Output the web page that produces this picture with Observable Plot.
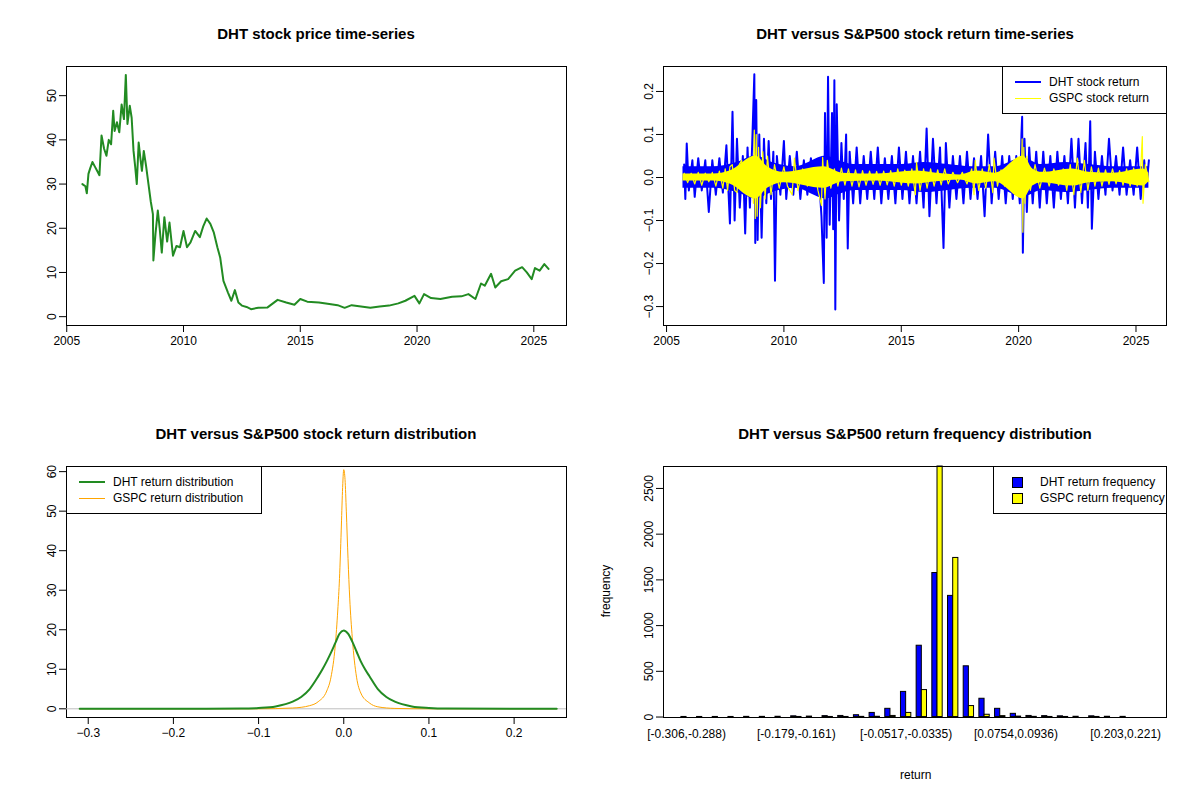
<!DOCTYPE html>
<html><head><meta charset="utf-8">
<script src="https://cdn.jsdelivr.net/npm/d3@7"></script>
<script src="https://cdn.jsdelivr.net/npm/@observablehq/plot@0.6"></script>
<style>
body{margin:0;background:#fff;font-family:"Liberation Sans",Arial,sans-serif;}
#wrap{position:relative;width:1200px;height:800px;}
.panel{position:absolute;}
.title{position:absolute;font-weight:bold;font-size:15px;transform:translateX(-50%);white-space:nowrap;}
.lab{position:absolute;font-size:12px;white-space:nowrap;}
.legend{position:absolute;border:1px solid #000;background:#fff;font-size:12px;}
.legend div{position:relative;height:16px;line-height:16px;padding-left:46px;}
.sw{position:absolute;left:12px;top:8px;width:26px;}
.box{position:absolute;left:18px;top:3px;width:9px;height:9px;border:1px solid #000;}
</style></head><body>
<div id="wrap"></div>
<script>
// ---- Data ----
const priceYears=[2005.67,2005.8,2005.86,2005.93,2006.0,2006.1,2006.2,2006.3,2006.4,2006.49,2006.6,2006.7,2006.8,2006.9,2006.99,2007.05,2007.15,2007.25,2007.35,2007.45,2007.53,2007.6,2007.7,2007.78,2007.86,2007.93,2008.0,2008.08,2008.15,2008.22,2008.3,2008.4,2008.5,2008.6,2008.69,2008.71,2008.8,2008.9,2008.98,2009.07,2009.18,2009.3,2009.4,2009.55,2009.7,2009.85,2010.0,2010.15,2010.3,2010.5,2010.7,2010.85,2010.99,2011.15,2011.3,2011.45,2011.57,2011.71,2011.9,2012.05,2012.2,2012.35,2012.5,2012.7,2012.89,2013.2,2013.6,2014.03,2014.4,2014.75,2015.0,2015.3,2015.8,2016.17,2016.6,2016.9,2017.2,2017.6,2018.0,2018.4,2018.8,2019.2,2019.5,2019.89,2020.1,2020.3,2020.6,2021.0,2021.5,2021.9,2022.2,2022.5,2022.74,2022.9,2023.17,2023.35,2023.6,2023.9,2024.2,2024.5,2024.7,2024.91,2025.05,2025.25,2025.45,2025.63];
const priceValues=[30,29.5,27.9,32.3,33.5,35,34,33,32,41,38,36.4,40,39,46.6,42,44,41.7,48,44.7,54.7,43.6,47.7,45,37.5,34,30,39.4,36,33,37.5,34,30,26,23.2,12.7,18.7,24,20,14.5,22.5,17,21.3,13.8,16,15.7,19.4,15.7,16.8,19.4,18,20.5,22.2,21,19,15.7,13.4,8.1,5.5,3.6,6,3.2,2.5,2.2,1.7,2.0,2.1,3.8,3.2,2.7,4,3.4,3.2,2.9,2.6,2.0,2.6,2.3,2.0,2.3,2.5,3.0,3.6,4.7,3,5.1,4.2,4,4.5,4.6,5.1,4,7.5,7,9.7,6.6,8,8.5,10.4,11.2,10,8.5,11,10.4,11.9,10.8];
const priceTicksY=[0,10,20,30,40,50];
const yearTicks=[2005,2010,2015,2020,2025];

const dhtRetYears=[2005.75,2005.8,2005.86,2005.95,2006.1,2006.2,2006.35,2006.5,2006.65,2006.8,2006.95,2007.1,2007.25,2007.4,2007.55,2007.7,2007.81,2007.9,2008.0,2008.12,2008.25,2008.35,2008.45,2008.55,2008.65,2008.74,2008.78,2008.82,2008.88,2008.95,2009.05,2009.15,2009.25,2009.35,2009.45,2009.55,2009.62,2009.7,2009.85,2010.0,2010.1,2010.25,2010.4,2010.55,2010.7,2010.85,2011.0,2011.15,2011.3,2011.45,2011.6,2011.7,2011.75,2011.82,2011.88,2011.95,2012.05,2012.1,2012.15,2012.19,2012.25,2012.35,2012.45,2012.55,2012.65,2012.72,2012.8,2012.95,2013.1,2013.25,2013.4,2013.55,2013.7,2013.85,2014.0,2014.15,2014.3,2014.45,2014.6,2014.75,2014.9,2015.05,2015.2,2015.35,2015.5,2015.65,2015.8,2015.95,2016.08,2016.2,2016.35,2016.5,2016.65,2016.8,2016.9,2017.05,2017.2,2017.35,2017.5,2017.65,2017.8,2017.95,2018.1,2018.25,2018.4,2018.55,2018.7,2018.85,2019.0,2019.15,2019.3,2019.45,2019.6,2019.75,2019.9,2020.05,2020.12,2020.15,2020.18,2020.25,2020.35,2020.45,2020.6,2020.75,2020.9,2021.05,2021.2,2021.35,2021.5,2021.65,2021.8,2021.95,2022.1,2022.25,2022.4,2022.55,2022.7,2022.85,2022.95,2023.05,2023.12,2023.25,2023.4,2023.55,2023.7,2023.85,2024.0,2024.15,2024.3,2024.45,2024.6,2024.75,2024.9,2025.05,2025.2,2025.35,2025.45,2025.55];
const dhtRetValues=[0.03,-0.05,0.079,-0.03,0.04,-0.045,0.045,-0.03,0.04,-0.08,0.04,-0.04,0.045,-0.035,0.075,-0.107,0.153,-0.1,0.09,-0.07,0.05,-0.13,0.07,-0.07,0.08,0.24,-0.152,0.18,-0.145,0.1,-0.14,0.09,-0.06,0.085,-0.05,0.06,-0.24,0.05,-0.04,0.085,-0.05,0.05,-0.04,0.06,-0.05,0.04,-0.04,0.045,-0.03,0.04,-0.09,-0.245,0.15,-0.14,0.234,-0.11,0.15,-0.12,0.226,-0.307,0.17,-0.1,0.08,-0.05,0.1,-0.165,0.06,-0.06,0.07,-0.06,0.05,-0.05,0.06,-0.05,0.07,-0.06,0.045,-0.05,0.05,-0.06,0.07,-0.05,0.06,-0.06,0.05,-0.06,0.06,-0.07,0.114,-0.09,0.09,-0.06,0.07,-0.164,0.08,-0.07,0.05,-0.05,0.05,-0.06,0.06,-0.05,0.045,-0.05,0.05,-0.09,0.1,-0.06,0.06,-0.05,0.05,-0.06,0.05,-0.05,0.05,-0.06,0.1,0.141,-0.175,0.09,-0.08,0.07,-0.06,0.06,-0.07,0.06,-0.06,0.05,-0.07,0.06,-0.05,0.05,-0.06,0.09,-0.07,0.09,-0.06,0.08,-0.07,0.131,-0.119,0.06,-0.05,0.05,-0.04,0.09,-0.03,0.05,-0.04,0.07,-0.04,0.04,-0.04,0.07,-0.05,0.04,-0.02,0.04];

const gspcRetYears=[2005.75,2005.9,2006.05,2006.2,2006.35,2006.5,2006.65,2006.8,2006.95,2007.1,2007.25,2007.4,2007.5,2007.6,2007.7,2007.8,2007.9,2008.0,2008.1,2008.2,2008.3,2008.4,2008.5,2008.6,2008.7,2008.74,2008.78,2008.82,2008.86,2008.92,2009.0,2009.1,2009.2,2009.3,2009.45,2009.6,2009.8,2010.0,2010.15,2010.35,2010.45,2010.6,2010.8,2011.0,2011.15,2011.3,2011.45,2011.6,2011.65,2011.75,2011.85,2012.0,2012.15,2012.3,2012.45,2012.6,2012.75,2012.9,2013.05,2013.2,2013.35,2013.5,2013.65,2013.8,2013.95,2014.1,2014.25,2014.4,2014.55,2014.7,2014.85,2015.0,2015.15,2015.3,2015.45,2015.6,2015.65,2015.8,2015.95,2016.1,2016.25,2016.4,2016.55,2016.7,2016.85,2017.0,2017.2,2017.4,2017.6,2017.8,2018.0,2018.1,2018.15,2018.3,2018.45,2018.6,2018.75,2018.9,2018.95,2019.1,2019.25,2019.4,2019.55,2019.7,2019.85,2020.0,2020.1,2020.15,2020.18,2020.22,2020.27,2020.35,2020.5,2020.7,2020.9,2021.1,2021.3,2021.5,2021.7,2021.9,2022.05,2022.2,2022.35,2022.5,2022.65,2022.8,2022.95,2023.1,2023.25,2023.4,2023.55,2023.7,2023.85,2024.0,2024.15,2024.3,2024.45,2024.6,2024.75,2024.9,2025.05,2025.2,2025.27,2025.3,2025.4,2025.55];
const gspcRetValues=[0.01,-0.012,0.01,-0.015,0.012,-0.018,0.01,-0.01,0.012,-0.02,0.015,-0.025,0.02,-0.03,0.025,0.03,-0.03,-0.035,0.03,0.04,-0.035,-0.03,0.035,0.045,-0.06,0.11,-0.095,0.1,-0.09,0.07,-0.07,0.06,-0.05,0.05,-0.04,0.03,-0.025,0.025,-0.02,-0.04,0.045,-0.03,0.02,-0.02,0.018,0.02,-0.03,-0.065,0.047,-0.05,0.04,-0.025,0.02,-0.02,0.022,-0.018,0.02,-0.02,0.018,-0.022,0.016,-0.018,0.015,-0.016,0.014,-0.018,0.015,-0.017,0.016,-0.02,0.02,-0.018,0.017,-0.02,0.02,-0.04,0.035,-0.03,0.02,-0.025,0.02,-0.02,0.018,-0.017,0.02,-0.015,0.012,-0.012,0.012,-0.015,0.02,-0.04,0.04,-0.03,0.02,-0.025,0.03,-0.035,0.045,-0.02,0.018,-0.02,0.015,-0.018,0.02,-0.02,-0.03,0.09,-0.127,0.07,-0.06,0.05,-0.03,0.03,-0.025,0.022,-0.02,0.02,-0.018,0.02,-0.03,0.03,-0.04,0.045,-0.035,0.04,-0.03,0.025,-0.02,0.022,-0.02,0.018,-0.016,0.02,-0.015,0.016,-0.018,0.02,-0.02,0.022,-0.02,0.02,0.095,-0.06,0.03,-0.01];
// typical daily-return envelope (half-width of dense band)
const dhtBandYears=[2005.7,2007,2008,2008.8,2009.5,2010.5,2011.8,2012.3,2013,2014,2015,2016,2017,2018,2019,2020.2,2021,2022,2023,2024,2025.55];
const dhtBandHalf=[0.025,0.025,0.035,0.05,0.035,0.025,0.05,0.04,0.03,0.03,0.03,0.035,0.03,0.025,0.025,0.045,0.03,0.035,0.03,0.025,0.025];
const gspcBandYears=[2005.7,2007,2007.7,2008.8,2009.3,2010,2011.7,2012.5,2014,2015.6,2016.5,2017.5,2018.2,2019,2020.2,2020.6,2021,2022.3,2023,2024,2025.3,2025.55];
const gspcBandHalf=[0.008,0.008,0.015,0.05,0.025,0.012,0.025,0.01,0.008,0.015,0.01,0.006,0.015,0.01,0.05,0.02,0.012,0.02,0.012,0.01,0.02,0.01];
const retTicksY=[-0.3,-0.2,-0.1,0.0,0.1,0.2];

const densX=[-0.31,-0.2,-0.12,-0.1,-0.08,-0.06,-0.05,-0.04,-0.03,-0.025,-0.02,-0.015,-0.01,-0.005,0,0.005,0.01,0.015,0.02,0.025,0.03,0.04,0.05,0.06,0.08,0.1,0.12,0.25];
const dhtDens=[0,0.02,0.05,0.2,0.6,1.8,3,5,8.2,10,12,14.2,16.6,19,19.8,19,17,14.5,12,10,8.3,5,3,1.8,0.6,0.2,0.05,0];
const gspcDensX=[-0.31,-0.1,-0.06,-0.04,-0.03,-0.02,-0.015,-0.01,-0.007,-0.005,-0.003,-0.0015,0,0.0015,0.003,0.005,0.007,0.01,0.015,0.02,0.03,0.04,0.06,0.1,0.25];
const gspcDens=[0,0,0.2,0.8,1.8,4.5,8,16,25,33,45,55,60.5,58,50,38,28,18,8,4,1.5,0.5,0.1,0,0];
const densTicksX=[-0.3,-0.2,-0.1,0.0,0.1,0.2];
const densTicksY=[0,10,20,30,40,50,60];

const dhtFreq=[1,1,1,1,2,2,3,8,5,10,12,20,45,90,275,780,1575,1325,555,200,90,35,12,10,8,3,8,3,2];
const gspcFreq=[0,0,0,0,0,0,0,1,0,1,1,2,3,12,45,295,3000,1740,120,25,10,5,2,1,1,0,1,0,0];
const binTickIdx=[0,7,14,21,28];
const binTickLabels=["[-0.306,-0.288)","[-0.179,-0.161)","[-0.0517,-0.0335)","[0.0754,0.0936)","[0.203,0.221)"];
const freqTicksY=[0,500,1000,1500,2000,2500];

// ---- Build ----
const wrap=document.getElementById("wrap");
const font={fontSize:"12px",fontFamily:"Liberation Sans, Arial, sans-serif",color:"#000",background:"transparent",overflow:"visible"};
function place(el,left,top){const d=document.createElement("div");d.className="panel";d.style.left=left+"px";d.style.top=top+"px";d.appendChild(el);wrap.appendChild(d);}
function add(cls,text,left,top,extra){const d=document.createElement("div");d.className=cls;d.textContent=text;d.style.left=left+"px";d.style.top=top+"px";if(extra)Object.assign(d.style,extra);wrap.appendChild(d);return d;}
const axY=(ticks,fmt)=>Plot.axisY({ticks,tickFormat:fmt,tickSize:7,tickRotate:-90,tickPadding:4,label:null});
const axX=(ticks,fmt)=>Plot.axisX({ticks,tickFormat:fmt,tickSize:7,tickPadding:4,label:null});

const price=priceYears.map((x,i)=>({x,y:priceValues[i]}));
place(Plot.plot({width:600,height:400,marginLeft:66,marginRight:34,marginTop:66,marginBottom:75,style:font,
  x:{domain:[2004.99,2026.4]},y:{domain:[-2.0,56.6]},
  marks:[Plot.frame({stroke:"#000"}),axY(priceTicksY,d3.format("d")),axX(yearTicks,d3.format("d")),
    Plot.line(price,{x:"x",y:"y",stroke:"#228B22",strokeWidth:2})]}),0,0);

const dr=dhtRetYears.map((x,i)=>({x,y:dhtRetValues[i]}));
const gr=gspcRetYears.map((x,i)=>({x,y:gspcRetValues[i]}));
const db=dhtBandYears.map((x,i)=>({x,h:dhtBandHalf[i]}));
const gb=gspcBandYears.map((x,i)=>({x,h:gspcBandHalf[i]}));
place(Plot.plot({width:600,height:400,marginLeft:63,marginRight:34,marginTop:66,marginBottom:75,style:font,
  x:{domain:[2004.87,2026.3]},y:{domain:[-0.344,0.258]},
  marks:[Plot.frame({stroke:"#000"}),axY(retTicksY,d3.format(".1f")),axX(yearTicks,d3.format("d")),
    Plot.areaY(db,{x:"x",y1:d=>-d.h,y2:d=>d.h,fill:"#0000FF",curve:"monotone-x"}),
    Plot.line(dr,{x:"x",y:"y",stroke:"#0000FF",strokeWidth:2}),
    Plot.areaY(gb,{x:"x",y1:d=>-d.h,y2:d=>d.h,fill:"#FFFF00",curve:"monotone-x"}),
    Plot.line(gr,{x:"x",y:"y",stroke:"#FFFF00",strokeWidth:1.2})]}),600,0);

const dd=densX.map((x,i)=>({x,y:dhtDens[i]}));
const gd=gspcDensX.map((x,i)=>({x,y:gspcDens[i]}));
place(Plot.plot({width:600,height:400,marginLeft:66,marginRight:34,marginTop:66,marginBottom:83,style:font,
  x:{domain:[-0.3255,0.2615]},y:{domain:[-2.2,61.3]},
  marks:[Plot.frame({stroke:"#000"}),axY(densTicksY,d3.format("d")),axX(densTicksX,d3.format(".1f")),
    Plot.ruleY([0],{stroke:"#bebebe"}),
    Plot.line(gd,{x:"x",y:"y",stroke:"orange",strokeWidth:1,curve:"monotone-x"}),
    Plot.line(dd,{x:"x",y:"y",stroke:"#228B22",strokeWidth:2,curve:"monotone-x"})]}),0,400);

const bars=[];
dhtFreq.forEach((n,i)=>{bars.push({i,n,lo:i-0.33,hi:i,c:"#0000FF"});bars.push({i,n:gspcFreq[i],lo:i,hi:i+0.33,c:"#FFFF00"});});
const tickMap=new Map(binTickIdx.map((k,j)=>[k,binTickLabels[j]]));
place(Plot.plot({width:600,height:400,marginLeft:63,marginRight:34,marginTop:66,marginBottom:83,style:font,
  x:{domain:[-1.47,30.6]},y:{domain:[-5,2740]},clip:false,
  marks:[
    Plot.rect(bars,{x1:"lo",x2:"hi",y1:0,y2:d=>Math.min(d.n,2740),fill:"c",stroke:"#000",strokeWidth:1}),
    Plot.frame({stroke:"#000"}),
    axY(freqTicksY,d3.format("d")),
    Plot.axisX({ticks:binTickIdx,tickFormat:d=>tickMap.get(d),tickSize:0,tickPadding:12,label:null})
  ]}),600,400);

// titles & labels
add("title","DHT stock price time-series",316,25);
add("title","DHT versus S&P500 stock return time-series",915,25);
add("title","DHT versus S&P500 stock return distribution",316,425);
add("title","DHT versus S&P500 return frequency distribution",915,425);
add("lab","return",900,768);
add("lab","frequency",580,584,{transform:"rotate(-90deg)"});

function legend(left,top,w,items){const L=document.createElement("div");L.className="legend";L.style.left=left+"px";L.style.top=top+"px";L.style.width=w+"px";L.style.padding="7px 0";
  items.forEach(it=>{const r=document.createElement("div");const s=document.createElement("span");
    if(it.box){s.className="box";s.style.background=it.color;}else{s.className="sw";s.style.borderTop=it.w+"px solid "+it.color;s.style.top=(8-it.w/2)+"px";}
    r.appendChild(s);r.appendChild(document.createTextNode(it.text));L.appendChild(r);});
  wrap.appendChild(L);}
legend(1002,66,163,[{text:"DHT stock return",color:"#0000FF",w:2},{text:"GSPC stock return",color:"#FFFF00",w:1}]);
legend(66,466,194,[{text:"DHT return distribution",color:"#228B22",w:2},{text:"GSPC return distribution",color:"orange",w:1}]);
legend(993,466,172,[{text:"DHT return frequency",color:"#0000FF",box:true},{text:"GSPC return frequency",color:"#FFFF00",box:true}]);
</script></body></html>
